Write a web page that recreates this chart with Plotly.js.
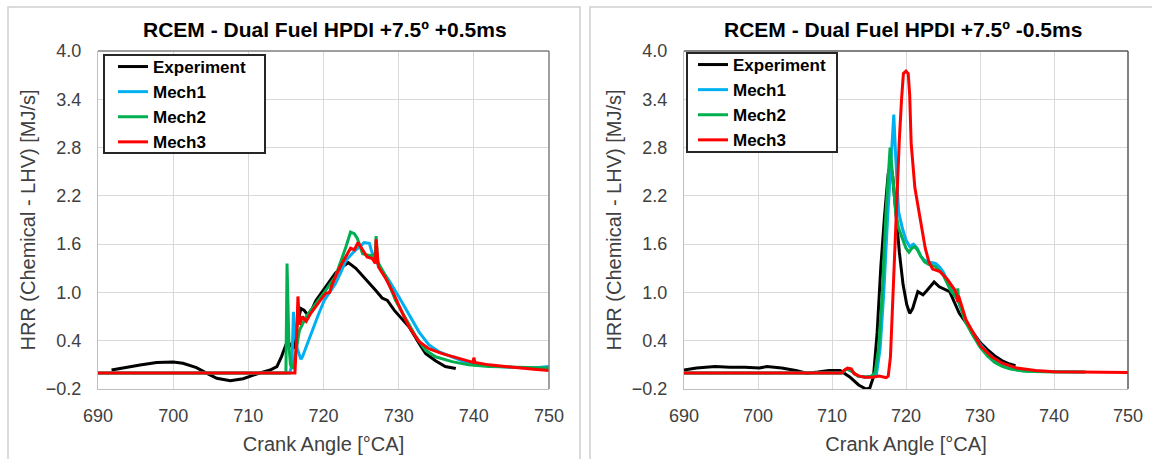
<!DOCTYPE html>
<html>
<head>
<meta charset="utf-8">
<script src="https://cdn.plot.ly/plotly-3.0.1.min.js"></script>
<style>html,body{margin:0;padding:0;background:#fff;}</style>
</head>
<body>
<div id="chart" style="width:1152px;height:459px;"></div>
<script>
// ---------- Data ----------
const seriesNames = ["Experiment", "Mech1", "Mech2", "Mech3"];
const titleLeft = "RCEM - Dual Fuel HPDI +7.5º +0.5ms";
const titleRight = "RCEM - Dual Fuel HPDI +7.5º -0.5ms";
const xTitle = "Crank Angle [°CA]";
const yTitle = "HRR (Chemical - LHV) [MJ/s]";

// Left panel (+0.5ms)
const expL_x = [691.8,693.4,695.6,697.8,700.0,701.3,703.1,704.5,705.8,707.6,709.3,711.1,712.9,713.8,714.4,715.0,715.5,716.0,716.5,717.0,717.4,717.9,718.5,719.0,720.1,721.0,721.6,722.5,723.3,724.3,725.6,726.9,727.8,728.5,729.4,730.3,731.4,732.7,733.6,734.9,736.2,737.6];
const expL_y = [0.036,0.065,0.098,0.13,0.135,0.12,0.065,-0.005,-0.067,-0.097,-0.072,-0.014,0.036,0.077,0.2,0.35,0.36,0.3,0.6,0.8,0.78,0.72,0.8,0.9,1.05,1.17,1.24,1.32,1.37,1.30,1.17,1.03,0.93,0.90,0.78,0.68,0.57,0.37,0.24,0.15,0.08,0.055];

const m1L_x = [690,715.5,715.8,716.0,716.2,716.5,717.0,717.2,717.6,718.5,719.3,720.1,720.8,721.6,722.3,723.0,723.7,724.3,725.0,725.4,726.1,726.5,727.4,728.7,730.0,731.4,732.7,734.0,735.4,737.6,739.3,742,745,748,750];
const m1L_y = [0,0,0.1,0.76,0.5,0.3,0.17,0.2,0.3,0.53,0.72,0.9,1.0,1.11,1.25,1.4,1.47,1.53,1.58,1.62,1.61,1.48,1.32,1.15,0.95,0.72,0.51,0.35,0.26,0.18,0.12,0.09,0.07,0.06,0.08];

const m2L_x = [690,715.0,715.15,715.25,715.4,715.6,715.9,716.3,716.8,717.7,719.0,720.1,721.6,722.4,723.0,723.6,724.1,724.5,725.2,726.1,726.7,726.9,727.0,727.2,728.3,729.6,731.0,732.3,733.6,734.9,737.1,739.3,742,745,750];
const m2L_y = [0,0,1.36,0.8,0.35,0.1,0.05,0.25,0.53,0.7,0.86,1.0,1.2,1.4,1.57,1.75,1.73,1.67,1.48,1.46,1.46,1.5,1.7,1.38,1.2,0.9,0.66,0.45,0.28,0.2,0.14,0.1,0.08,0.07,0.06];

const m3L_x = [690,716.2,716.45,716.6,716.8,717.0,717.2,717.7,718.3,719.4,720.3,720.8,721.2,722.1,723.0,723.6,724.1,724.6,725.2,725.8,726.5,726.9,727.0,727.3,728.3,729.4,730.5,731.4,732.7,734.0,735.8,737.6,739.3,739.9,740.0,740.15,742,745,748,750];
const m3L_y = [0,0,0.5,0.95,0.6,0.65,0.7,0.64,0.74,0.88,0.99,1.0,1.11,1.3,1.44,1.55,1.53,1.62,1.53,1.44,1.42,1.36,1.66,1.32,1.17,0.97,0.74,0.57,0.39,0.3,0.24,0.19,0.15,0.13,0.19,0.13,0.1,0.07,0.045,0.03];

// Right panel (-0.5ms)
const expR_x = [690,691.7,694.2,696.2,698.2,700.2,701.2,703.2,705.1,706.6,708.1,709.6,711.1,712.4,713.6,714.6,715.1,715.6,716.1,716.6,717.1,717.6,717.9,718.2,718.6,719.1,719.6,720.1,720.5,720.9,721.6,722.3,722.8,723.8,724.5,725.9,727.2,728.1,729.0,730.0,731.0,732.0,733.0,734.0,734.8];
const expR_y = [0.037,0.06,0.08,0.07,0.07,0.06,0.08,0.06,0.03,-0.005,0.01,0.03,0.03,-0.05,-0.15,-0.2,-0.19,-0.05,0.5,1.32,1.95,2.48,2.59,2.44,2.03,1.5,1.1,0.85,0.74,0.8,1.01,0.97,1.02,1.13,1.07,1.01,0.74,0.62,0.5,0.38,0.29,0.21,0.15,0.11,0.09];

const m1R_x = [690,711.3,712.0,712.7,713.5,714.5,715.5,716.0,716.5,717.0,717.5,718.0,718.35,718.6,719.0,719.5,720.0,720.5,721.0,721.5,722.0,722.5,723.0,724.0,724.5,725.0,725.5,726.0,726.5,727.0,728.0,729.0,730.0,731.0,732.0,733.0,734.0,735.0,737.0,740.0,744.0];
const m1R_y = [0,0,0.05,0.02,-0.04,-0.05,-0.05,-0.02,0.3,1.0,1.9,2.7,3.21,2.7,2.0,1.8,1.65,1.57,1.6,1.55,1.45,1.4,1.38,1.36,1.32,1.26,1.16,1.06,0.98,0.9,0.67,0.5,0.36,0.25,0.17,0.11,0.07,0.04,0.02,0.015,0.01];

const m2R_x = [690,711.3,712.0,712.7,713.5,714.5,715.3,715.8,716.3,716.8,717.3,717.85,718.2,718.6,719.0,719.5,720.0,720.4,720.8,721.2,721.6,722.0,722.5,723.0,724.0,725.0,726.0,726.9,727.0,727.1,728.0,729.0,730.0,731.0,732.0,733.0,734.0,736.0,740.0,744.3];
const m2R_y = [0,0,0.05,0.02,-0.04,-0.05,-0.04,0.0,0.3,1.0,2.0,2.8,2.45,2.0,1.8,1.68,1.55,1.5,1.55,1.57,1.52,1.45,1.38,1.35,1.32,1.22,1.03,0.92,1.05,0.9,0.64,0.47,0.32,0.21,0.13,0.08,0.05,0.02,0.01,0.01];

const m3R_x = [690,711.3,711.6,712.1,712.6,713.0,713.7,714.4,715.5,716.4,717.3,717.6,717.9,718.2,718.5,718.8,719.1,719.4,719.65,720.0,720.3,720.5,720.7,721.2,721.9,722.6,723.1,723.6,724.6,725.6,726.6,726.9,727.0,727.1,728.1,729.1,730.1,731.6,733.0,735.0,737.5,740,750];
const m3R_y = [0,0,0.03,0.06,0.05,-0.01,-0.04,-0.055,-0.055,-0.04,-0.06,-0.04,0.2,0.9,1.5,2.2,2.9,3.4,3.72,3.75,3.72,3.45,2.85,2.3,1.9,1.55,1.38,1.29,1.26,1.16,1.03,0.96,0.88,0.96,0.66,0.49,0.33,0.2,0.12,0.06,0.03,0.015,0.005];

const colors = ["#000000", "#00b0f0", "#00b050", "#ff0000"];

// ---------- Traces ----------
function tr(x, y, i, xa, ya, leg) {
  return {x: x, y: y, type: "scatter", mode: "lines", name: seriesNames[i],
          line: {color: colors[i], width: 3}, xaxis: xa, yaxis: ya, legend: leg,
          hoverinfo: "x+y"};
}
const data = [
  tr(expL_x, expL_y, 0, "x", "y", "legend"),
  tr(m1L_x, m1L_y, 1, "x", "y", "legend"),
  tr(m2L_x, m2L_y, 2, "x", "y", "legend"),
  tr(m3L_x, m3L_y, 3, "x", "y", "legend"),
  tr(expR_x, expR_y, 0, "x2", "y2", "legend2"),
  tr(m1R_x, m1R_y, 1, "x2", "y2", "legend2"),
  tr(m2R_x, m2R_y, 2, "x2", "y2", "legend2"),
  tr(m3R_x, m3R_y, 3, "x2", "y2", "legend2")
];

// ---------- Layout ----------
const W = 1152, H = 459;
const FONT = "Liberation Sans, Arial, sans-serif";
function px(v) { return v / W; }
function py(v) { return 1 - v / H; }
function xa(d, anchor) {
  return {domain: d, anchor: anchor, range: [690, 750], tick0: 690, dtick: 10,
    showgrid: true, gridcolor: "#d9d9d9", gridwidth: 1, zeroline: false,
    showline: true, linecolor: "#bfbfbf", linewidth: 1, ticks: "",
    ticklabelstandoff: 10,
    tickfont: {family: FONT, size: 18, color: "#404040"},
    title: {text: xTitle, font: {family: FONT, size: 20, color: "#404040"}, standoff: 12},
    fixedrange: true};
}
function ya(d, anchor) {
  return {domain: d, anchor: anchor, range: [-0.2, 4.0], tick0: -0.2, dtick: 0.6,
    tickformat: ".1f",
    showgrid: true, gridcolor: "#d9d9d9", gridwidth: 1, zeroline: false,
    showline: true, linecolor: "#bfbfbf", linewidth: 1, ticks: "",
    ticklabelstandoff: 12,
    tickfont: {family: FONT, size: 18, color: "#404040"},
    title: {text: yTitle, font: {family: FONT, size: 20, color: "#404040"}, standoff: 4},
    fixedrange: true};
}
const yDom = [py(389), py(51)];
const legFont = {family: FONT, size: 17, weight: "bold", color: "#000000"};
const layout = {
  width: W, height: H,
  margin: {l: 0, r: 0, t: 0, b: 0},
  paper_bgcolor: "#ffffff", plot_bgcolor: "#ffffff",
  font: {family: FONT},
  showlegend: true,
  xaxis: xa([px(98), px(549)], "y"),
  yaxis: ya(yDom, "x"),
  xaxis2: xa([px(684), px(1128)], "y2"),
  yaxis2: ya(yDom, "x2"),
  legend: {x: px(113), y: py(49), xanchor: "left", yanchor: "top",
    bgcolor: "rgba(0,0,0,0)", borderwidth: 0, font: legFont, itemwidth: 30},
  legend2: {x: px(693), y: py(47), xanchor: "left", yanchor: "top",
    bgcolor: "rgba(0,0,0,0)", borderwidth: 0, font: legFont, itemwidth: 30},
  annotations: [
    {text: titleLeft, x: px(325), y: py(30), xref: "paper", yref: "paper",
     xanchor: "center", yanchor: "middle", showarrow: false,
     font: {family: FONT, size: 21, weight: "bold", color: "#000000"}},
    {text: titleRight, x: px(903), y: py(30), xref: "paper", yref: "paper",
     xanchor: "center", yanchor: "middle", showarrow: false,
     font: {family: FONT, size: 21, weight: "bold", color: "#000000"}}
  ],
  shapes: [
    // panel frames
    {type: "rect", xref: "paper", yref: "paper", x0: px(8), x1: px(580), y0: -0.1, y1: py(7),
     line: {color: "#d0d0d0", width: 1.5}, layer: "below"},
    {type: "rect", xref: "paper", yref: "paper", x0: px(590), x1: 1.1, y0: -0.1, y1: py(7),
     line: {color: "#d0d0d0", width: 1.5}, layer: "below"},
    // darker top / right plot-area borders
    {type: "line", xref: "x domain", yref: "y domain", x0: 0, x1: 1, y0: 1, y1: 1, line: {color: "#7f7f7f", width: 1.5}},
    {type: "line", xref: "x domain", yref: "y domain", x0: 1, x1: 1, y0: 0, y1: 1, line: {color: "#7f7f7f", width: 1.5}},
    {type: "line", xref: "x2 domain", yref: "y2 domain", x0: 0, x1: 1, y0: 1, y1: 1, line: {color: "#595959", width: 1.5}},
    {type: "line", xref: "x2 domain", yref: "y2 domain", x0: 1, x1: 1, y0: 0, y1: 1, line: {color: "#595959", width: 1.5}},
    // legend boxes
    {type: "rect", xref: "paper", yref: "paper", x0: px(104), x1: px(265), y0: py(153), y1: py(55),
     fillcolor: "#ffffff", line: {color: "#262626", width: 2}, layer: "above"},
    {type: "rect", xref: "paper", yref: "paper", x0: px(687), x1: px(837), y0: py(152), y1: py(53),
     fillcolor: "#ffffff", line: {color: "#262626", width: 2}, layer: "above"}
  ]
};

Plotly.newPlot("chart", data, layout, {displayModeBar: false, staticPlot: true});
</script>
</body>
</html>
